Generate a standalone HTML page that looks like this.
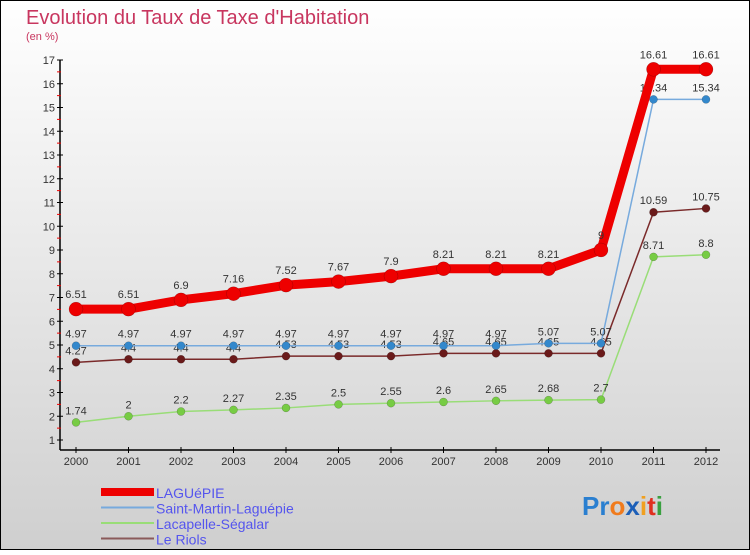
<!DOCTYPE html>
<html><head><meta charset="utf-8"><style>
html,body{margin:0;padding:0}
body{width:750px;height:550px;overflow:hidden;font-family:"Liberation Sans",sans-serif}
</style></head><body>
<svg id="chart" width="750" height="550" xmlns="http://www.w3.org/2000/svg">
<defs><linearGradient id="bg" x1="0" y1="0" x2="0" y2="1"><stop offset="0" stop-color="#ffffff"/><stop offset="1" stop-color="#cfcfcf"/></linearGradient></defs>
<rect x="0.5" y="0.5" width="749" height="549" fill="url(#bg)" stroke="#000" stroke-width="1"/>
<text x="26" y="24" font-size="20" fill="#c8365f">Evolution du Taux de Taxe d'Habitation</text>
<text x="26" y="40" font-size="11" fill="#c8365f">(en %)</text>
<g id="axes"></g>
<g id="series"></g>
<g id="legend"></g>
<text x="582" y="515" font-size="26" font-weight="bold"><tspan fill="#2a7fd0">Pr</tspan><tspan fill="#f07b1d">o</tspan><tspan fill="#1c5fb8">x</tspan><tspan fill="#f0a020">i</tspan><tspan fill="#e03020">t</tspan><tspan fill="#3aa040">i</tspan></text>
</svg>
<script>
const years=[2000,2001,2002,2003,2004,2005,2006,2007,2008,2009,2010,2011,2012];
const yTicks=[1,2,3,4,5,6,7,8,9,10,11,12,13,14,15,16,17];
const laguepie=[6.51,6.51,6.9,7.16,7.52,7.67,7.9,8.21,8.21,8.21,9,16.61,16.61];
const saintMartin=[4.97,4.97,4.97,4.97,4.97,4.97,4.97,4.97,4.97,5.07,5.07,15.34,15.34];
const lacapelle=[1.74,2,2.2,2.27,2.35,2.5,2.55,2.6,2.65,2.68,2.7,8.71,8.8];
const leRiols=[4.27,4.4,4.4,4.4,4.53,4.53,4.53,4.65,4.65,4.65,4.65,10.59,10.75];
const names=["LAGUéPIE","Saint-Martin-Laguépie","Lacapelle-Ségalar","Le Riols"];
const NS="http://www.w3.org/2000/svg";
const x=i=>76+i*52.5;
const y=v=>440-(v-1)*23.75;
function mk(tag,attrs,parent){const e=document.createElementNS(NS,tag);for(const k in attrs)e.setAttribute(k,attrs[k]);parent.appendChild(e);return e;}
const axes=document.getElementById('axes');
let yl=mk('line',{x1:60,y1:y(17),x2:60,y2:450,stroke:'#000','stroke-width':1.5},axes);


let xl=mk('line',{x1:60,y1:450,x2:720,y2:450,stroke:'#000','stroke-width':1.5},axes);


yTicks.forEach(t=>{
  mk('line',{x1:57,y1:y(t),x2:63,y2:y(t),stroke:'#000'},axes);
  if(t<17)mk('line',{x1:57,y1:y(t+0.5),x2:61,y2:y(t+0.5),stroke:'#e00'},axes);
  const tx=mk('text',{x:55,y:y(t)+4,'font-size':11,'text-anchor':'end',fill:'#333'},axes);
  tx.textContent=t;
  
  
});
years.forEach((yr,i)=>{
  mk('line',{x1:x(i),y1:447,x2:x(i),y2:453,stroke:'#000'},axes);
  const tx=mk('text',{x:x(i),y:465,'font-size':11,'text-anchor':'middle',fill:'#333'},axes);
  tx.textContent=yr;
  
  
});
const ser=document.getElementById('series');
const defs=[
 {d:leRiols,c:'#7a2a2a',m:'#6a1a1a',w:1.5,r:4,n:'le-riols'},
 {d:lacapelle,c:'#99dd77',m:'#77cc44',w:1.5,r:4,n:'lacapelle-segalar'},
 {d:saintMartin,c:'#77aadd',m:'#3388cc',w:1.5,r:4,n:'saint-martin-laguepie'},
 {d:laguepie,c:'#ee0000',m:'#ee0000',w:9,r:7,n:'laguepie'}];
defs.forEach(s=>{
  const g=mk('g',{},ser);
  
  
  const p=mk('polyline',{points:s.d.map((v,i)=>x(i)+','+y(v)).join(' '),fill:'none',stroke:s.c,'stroke-width':s.w,'stroke-linejoin':'round'},g);
  
  
  s.d.forEach((v,i)=>{
    const c=mk('circle',{cx:x(i),cy:y(v),r:s.r,fill:s.m,stroke:'rgba(0,0,0,0.3)','stroke-width':0.5},g);
    
    
    const t=mk('text',{x:x(i),y:y(v)-(s.r+4),'font-size':11,'text-anchor':'middle',fill:'#333'},g);
    t.textContent=String(v);
    
    
  });
});
const lg=document.getElementById('legend');
const lc=['#ee0000','#77aadd','#99dd77','#8a5a5a'];const lw=[8,2,2,2];
names.forEach((n,i)=>{
  const yy=492+i*15.5;
  const g=mk('g',{},lg);
  
  
  mk('line',{x1:101,y1:yy,x2:154,y2:yy,stroke:lc[i],'stroke-width':lw[i]},g);
  const t=mk('text',{x:156,y:yy+6,'font-size':14,fill:'#5555ee'},g);
  t.textContent=n;
});
</script>
</body></html>
